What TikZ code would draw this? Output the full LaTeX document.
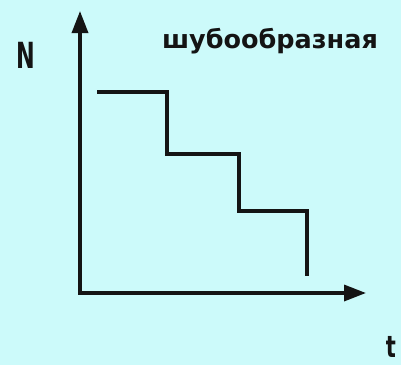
\documentclass[tikz,border=0pt]{standalone}
\usepackage{fontspec}
\setmainfont{DejaVu Sans}
\usetikzlibrary{arrows.meta}
\definecolor{bgcyan}{RGB}{204,250,250}
\definecolor{ink}{RGB}{20,20,20}
\begin{document}
\begin{tikzpicture}[x=1pt,y=-1pt,
  axis/.style={line width=3.4pt,draw=ink,-{Triangle[length=22pt,width=16pt]}},
  stair/.style={line width=3.4pt,draw=ink},
  lbl/.style={inner sep=0pt,text=ink}]
\fill[bgcyan] (0,0) rectangle (401,365);
\useasboundingbox (0,0) rectangle (401,365);
\coordinate (O) at (80,293);
\coordinate (ytop) at (80,11);
\coordinate (xend) at (366,293);
\draw[axis] ([yshift=1.7pt]O) -- (ytop);
\draw[axis] ([xshift=-1.7pt]O) -- (xend);
\coordinate (s0) at (97,92);
\coordinate (s1) at (167,92);
\coordinate (s2) at (167,154);
\coordinate (s3) at (239,154);
\coordinate (s4) at (239,211);
\coordinate (s5) at (307,211);
\coordinate (s6) at (307,276);
\draw[stair] (s0) -- (s1) -- (s2) -- (s3) -- (s4) -- (s5) -- (s6);
\node[lbl,font=\bfseries\fontsize{36}{36}\selectfont,xscale=0.62] (N) at (26,55) {N};
\node[lbl,font=\bfseries\fontsize{25.5}{25.5}\selectfont,xscale=1.0] (title) at (270,41) {шубообразная};
\node[lbl,font=\bfseries\fontsize{30}{30}\selectfont,anchor=north,xscale=0.7] (t) at (391,336) {t};
\end{tikzpicture}
\end{document}
